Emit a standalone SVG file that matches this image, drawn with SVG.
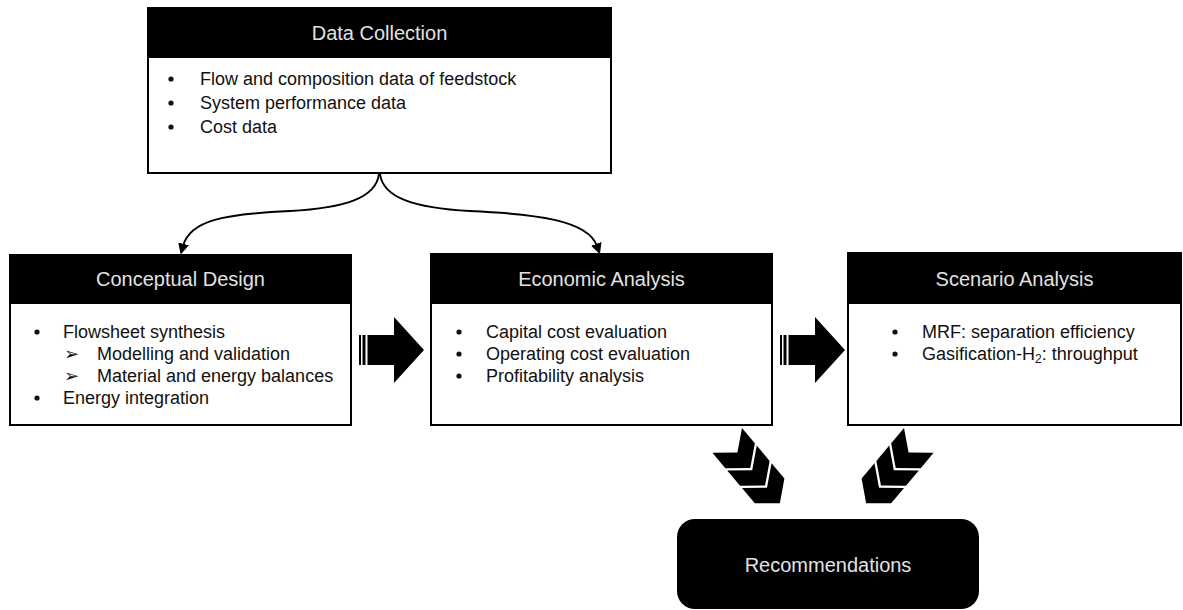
<svg xmlns="http://www.w3.org/2000/svg" width="1183" height="610" viewBox="0 0 1183 610">
  <defs>
    <style>
      .box { fill: #ffffff; stroke: #000000; stroke-width: 2; }
      .head { fill: #000000; stroke: #000000; stroke-width: 2; }
      .title { font-family: "Liberation Sans", Arial, sans-serif; font-size: 20px; fill: #e2e2e2; text-anchor: middle; }
      .item { font-family: "Liberation Sans", Arial, sans-serif; font-size: 18px; fill: #111111; }
      .sub { font-family: "DejaVu Sans", sans-serif; font-size: 18px; fill: #111111; }
      .dot { fill: #111111; }
      .curve { fill: none; stroke: #000000; stroke-width: 2; }
      .solid { fill: #000000; }
    </style>
    <marker id="tip" viewBox="0 0 10 10" refX="2" refY="5" markerWidth="5.5" markerHeight="5.5" orient="auto" markerUnits="strokeWidth">
      <path d="M0,0 L10,5 L0,10 Z" fill="#000000"/>
    </marker>
    <!-- one chevron pointing along +x -->
    <path id="chev" d="M0,-19.3 L20,-19.3 L35.9,0 L20,19.3 L0,19.3 L15.9,0 Z"/>
    <g id="chevrons">
      <use href="#chev"/>
      <use href="#chev" x="23"/>
      <use href="#chev" x="46"/>
    </g>
    <!-- striped block arrow pointing right, tail at x=0, centred on y=0 -->
    <path id="blockArrow" d="M0,-15 h2 v30 h-2 Z M3.5,-15 h3 v30 h-3 Z M8.5,-15 H35 V-33 L65,0 L35,33 V15 H8.5 Z"/>
  </defs>

  <!-- connectors -->
  <g id="connectors">
    <path class="curve" d="M379,174 C376,198 345,208 290,211 C225,214 190,220 183,246" marker-end="url(#tip)"/>
    <path class="curve" d="M380,174 C383,198 415,208 470,211 C535,214 588,220 597,246" marker-end="url(#tip)"/>
    <use href="#blockArrow" x="359" y="350" class="solid"/>
    <use href="#blockArrow" x="780" y="350" class="solid"/>
    <use href="#chevrons" class="solid" transform="translate(727.2,440.4) rotate(50)"/>
    <use href="#chevrons" class="solid" transform="translate(918.8,440.4) rotate(130)"/>
  </g>

  <!-- Data Collection -->
  <g id="data-collection">
    <rect class="box" x="148" y="8" width="463" height="165"/>
    <rect class="head" x="148" y="8" width="463" height="49"/>
    <text class="title" x="379.5" y="40">Data Collection</text>
    <circle class="dot" cx="171" cy="79" r="2.6"/>
    <circle class="dot" cx="171" cy="103" r="2.6"/>
    <circle class="dot" cx="171" cy="127" r="2.6"/>
    <text class="item" x="200" y="85">Flow and composition data of feedstock</text>
    <text class="item" x="200" y="109">System performance data</text>
    <text class="item" x="200" y="133">Cost data</text>
  </g>

  <!-- Conceptual Design -->
  <g id="conceptual-design">
    <rect class="box" x="10" y="255" width="341" height="170"/>
    <rect class="head" x="10" y="255" width="341" height="48"/>
    <text class="title" x="180.5" y="286">Conceptual Design</text>
    <circle class="dot" cx="37" cy="332" r="2.6"/>
    <text class="item" x="63" y="338">Flowsheet synthesis</text>
    <text class="sub" x="64" y="360">➢</text>
    <text class="item" x="97" y="360">Modelling and validation</text>
    <text class="sub" x="64" y="382">➢</text>
    <text class="item" x="97" y="382">Material and energy balances</text>
    <circle class="dot" cx="37" cy="398" r="2.6"/>
    <text class="item" x="63" y="404">Energy integration</text>
  </g>

  <!-- Economic Analysis -->
  <g id="economic-analysis">
    <rect class="box" x="431" y="254" width="341" height="171"/>
    <rect class="head" x="431" y="254" width="341" height="49"/>
    <text class="title" x="601.5" y="286">Economic Analysis</text>
    <circle class="dot" cx="459" cy="332" r="2.6"/>
    <circle class="dot" cx="459" cy="354" r="2.6"/>
    <circle class="dot" cx="459" cy="376" r="2.6"/>
    <text class="item" x="486" y="338">Capital cost evaluation</text>
    <text class="item" x="486" y="360">Operating cost evaluation</text>
    <text class="item" x="486" y="382">Profitability analysis</text>
  </g>

  <!-- Scenario Analysis -->
  <g id="scenario-analysis">
    <rect class="box" x="848" y="253" width="333" height="172"/>
    <rect class="head" x="848" y="253" width="333" height="50"/>
    <text class="title" x="1014.5" y="286">Scenario Analysis</text>
    <circle class="dot" cx="895" cy="332" r="2.6"/>
    <circle class="dot" cx="895" cy="354" r="2.6"/>
    <text class="item" x="922" y="338">MRF: separation efficiency</text>
    <text class="item" x="922" y="360">Gasification-H<tspan font-size="12" dy="3">2</tspan><tspan dy="-3">: throughput</tspan></text>
  </g>

  <!-- Recommendations -->
  <g id="recommendations">
    <rect x="677" y="519" width="302" height="90" rx="18" ry="18" fill="#000000"/>
    <text class="title" x="828" y="572" font-size="21">Recommendations</text>
  </g>
</svg>
